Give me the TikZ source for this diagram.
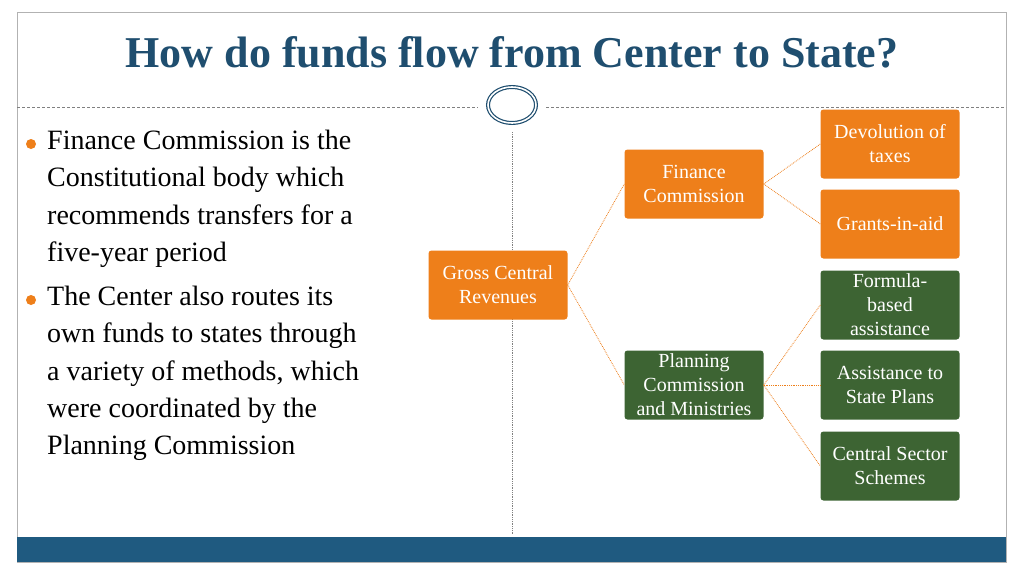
\documentclass[tikz,border=0pt]{standalone}
\usepackage{fontspec}
\setmainfont{Liberation Serif}
\usepackage{tikz}

\definecolor{titleblue}{HTML}{1F4E6F}
\definecolor{barblue}{HTML}{1F5A80}
\definecolor{boxorange}{HTML}{EE7F1A}
\definecolor{boxgreen}{HTML}{3D6433}

\tikzset{
  orangebox/.style={rectangle,rounded corners=3pt,fill=boxorange,text=white,
    minimum width=139pt,minimum height=69pt,align=center,
    font=\fontsize{20}{24}\selectfont,inner sep=1pt},
  greenbox/.style={orangebox,fill=boxgreen},
  link/.style={draw=boxorange,densely dotted,line width=0.8pt},
  bullettext/.style={anchor=north west,align=left,
    font=\fontsize{28}{37.3}\selectfont,inner sep=0pt}
}

\begin{document}
\begin{tikzpicture}[x=1pt,y=-1pt]
\useasboundingbox (0,0) rectangle (1024,576);
\fill[white] (0,0) rectangle (1024,576);
\draw[gray!60,line width=0.8pt] (17,12) rectangle (1006,562);
\fill[barblue] (17,537) rectangle (1006,562);

\node[font=\bfseries\fontsize{44}{50}\selectfont,text=titleblue] (title) at (512,52) {How do funds flow from Center to State?};

\draw[gray,densely dashed,line width=0.6pt] (17,107) -- (478,107);
\draw[gray,densely dashed,line width=0.6pt] (546,107) -- (1006,107);
\draw[titleblue,double=white,double distance=1.6pt,line width=1.2pt] (512,105) ellipse (24 and 18);
\draw[gray,densely dotted,line width=0.8pt] (512,132) -- (512,535);

\fill[boxorange] (31,144) circle (5);
\fill[boxorange] (31,300) circle (5);
\node[bullettext] (point1) at (47,130) {Finance Commission is the\\Constitutional body which\\recommends transfers for a\\five-year period};
\node[bullettext] (point2) at (47,286) {The Center also routes its\\own funds to states through\\a variety of methods, which\\were coordinated by the\\Planning Commission};

\node[orangebox] (gross) at (498,285) {Gross Central\\Revenues};
\node[orangebox] (finance) at (694,184) {Finance\\Commission};
\node[greenbox] (planning) at (694,385) {Planning\\Commission\\and Ministries};
\node[orangebox] (devolution) at (890,144) {Devolution of\\taxes};
\node[orangebox] (grants) at (890,224) {Grants-in-aid};
\node[greenbox] (formula) at (890,305) {Formula-\\based\\assistance};
\node[greenbox] (plans) at (890,385) {Assistance to\\State Plans};
\node[greenbox] (central) at (890,466) {Central Sector\\Schemes};

\draw[link] (gross.east) -- (finance.west);
\draw[link] (gross.east) -- (planning.west);
\draw[link] (finance.east) -- (devolution.west);
\draw[link] (finance.east) -- (grants.west);
\draw[link] (planning.east) -- (formula.west);
\draw[link] (planning.east) -- (plans.west);
\draw[link] (planning.east) -- (central.west);
\end{tikzpicture}
\end{document}
